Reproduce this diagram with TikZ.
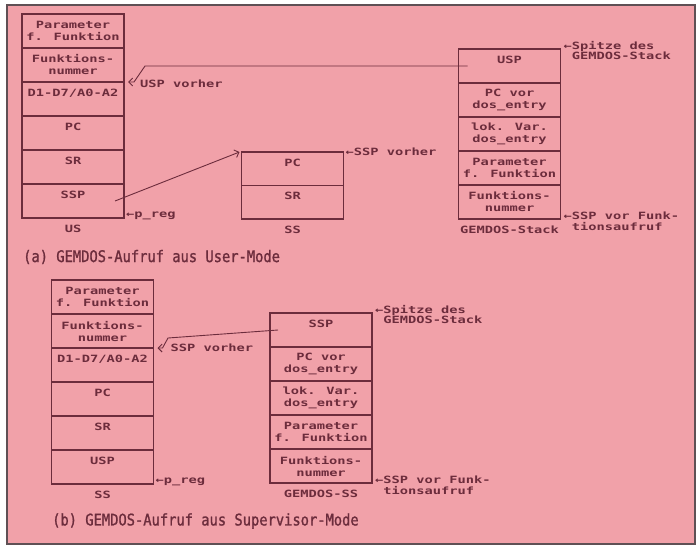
\documentclass[tikz,border=0pt]{standalone}
\usepackage{fontspec}
\usetikzlibrary{positioning,arrows.meta}
\newfontfamily\atari[FakeStretch=1.37]{DejaVu Sans Mono}
\newfontfamily\capfont[FakeStretch=0.86,FakeBold=1.2]{DejaVu Sans Mono}
\definecolor{paper}{RGB}{241,161,169}
\definecolor{ink}{RGB}{108,44,60}
\definecolor{framegray}{RGB}{95,80,85}

\begin{document}
\begin{tikzpicture}[x=1pt,y=-1pt,
    cell/.style={draw=ink,line width=1.1pt,minimum width=102pt,minimum height=34pt,inner sep=0pt,outer sep=0pt,align=center,text=ink,font=\atari\bfseries\fontsize{10}{12}\selectfont},
    stackname/.style={inner sep=0pt,text=ink,font=\atari\bfseries\fontsize{10}{12}\selectfont},
    sidelabel/.style={inner sep=0pt,align=left,text=ink,font=\atari\bfseries\fontsize{10}{10.5}\selectfont},
    conn/.style={draw=ink,line width=0.9pt,-{Straight Barb[length=4pt,width=8pt]}},
    capline/.style={anchor=west,inner sep=0pt,text=ink,font=\capfont\fontsize{16}{18}\selectfont}]
  \useasboundingbox (0,0) rectangle (700,554);
  \fill[white] (0,0) rectangle (700,554);
  \draw[draw=framegray,line width=1.2pt,fill=paper] (7,5) rectangle (695,544);

  \node[cell] (us1) at (73,31) {Parameter\\f. Funktion};
  \node[cell,below=0pt of us1] (us2) {Funktions-\\nummer};
  \node[cell,below=0pt of us2] (us3) {D1-D7/A0-A2\\~};
  \node[cell,below=0pt of us3] (us4) {PC\\~};
  \node[cell,below=0pt of us4] (us5) {SR\\~};
  \node[cell,below=0pt of us5] (us6) {SSP\\~};
  \node[stackname,below=7pt of us6] (uslbl) {US};

  \node[cell,minimum height=33.5pt] (ss1) at (292.5,168.75) {PC\\~};
  \node[cell,minimum height=33.5pt,below=0pt of ss1] (ss2) {SR\\~};
  \node[stackname,below=7pt of ss2] (sslbl) {SS};

  \node[cell] (gs1) at (509.5,66) {USP\\~};
  \node[cell,below=0pt of gs1] (gs2) {PC vor\\dos\_entry};
  \node[cell,below=0pt of gs2] (gs3) {lok. Var.\\dos\_entry};
  \node[cell,below=0pt of gs3] (gs4) {Parameter\\f. Funktion};
  \node[cell,below=0pt of gs4] (gs5) {Funktions-\\nummer};
  \node[stackname,below=7pt of gs5] (gslbl) {GEMDOS-Stack};

  \node[sidelabel,anchor=west] (prega) at ([xshift=2pt,yshift=2pt]us6.south east) {←p\_reg};
  \node[sidelabel,anchor=west] (sspolda) at ([xshift=2pt]ss1.north east) {←SSP vorher};
  \node[sidelabel,anchor=north west] (topa) at ([xshift=3pt,yshift=8pt]gs1.north east) {←Spitze des\\\phantom{←}GEMDOS-Stack};
  \node[sidelabel,anchor=north west] (bota) at ([xshift=3pt,yshift=7pt]gs5.south east) {←SSP vor Funk-\\\phantom{←}tionsaufruf};
  \node[sidelabel,anchor=west] (usplbl) at ([xshift=16pt,yshift=-2pt]us2.south east) {USP vorher};

  \coordinate (uspold) at ([xshift=4pt]us2.south east);
  \coordinate (ssptip) at ([xshift=-2pt]ss1.north west);
  \draw[conn] ([xshift=9pt]gs1.west) -- (145,66) -- ([xshift=6pt]uspold) -- (uspold);
  \draw[conn] ([xshift=-9pt]us6.east) -- (ssptip);

  \node[capline] (capa) at (23,257) {(a) GEMDOS-Aufruf aus User-Mode};

  \node[cell] (sv1) at (102.5,297) {Parameter\\f. Funktion};
  \node[cell,below=0pt of sv1] (sv2) {Funktions-\\nummer};
  \node[cell,below=0pt of sv2] (sv3) {D1-D7/A0-A2\\~};
  \node[cell,below=0pt of sv3] (sv4) {PC\\~};
  \node[cell,below=0pt of sv4] (sv5) {SR\\~};
  \node[cell,below=0pt of sv5] (sv6) {USP\\~};
  \node[stackname,below=7pt of sv6] (svlbl) {SS};

  \node[cell] (gv1) at (321,330) {SSP\\~};
  \node[cell,below=0pt of gv1] (gv2) {PC vor\\dos\_entry};
  \node[cell,below=0pt of gv2] (gv3) {lok. Var.\\dos\_entry};
  \node[cell,below=0pt of gv3] (gv4) {Parameter\\f. Funktion};
  \node[cell,below=0pt of gv4] (gv5) {Funktions-\\nummer};
  \node[stackname,below=7pt of gv5] (gvlbl) {GEMDOS-SS};

  \node[sidelabel,anchor=west] (pregb) at ([xshift=2pt,yshift=2pt]sv6.south east) {←p\_reg};
  \node[sidelabel,anchor=north west] (topb) at ([xshift=3pt,yshift=8pt]gv1.north east) {←Spitze des\\\phantom{←}GEMDOS-Stack};
  \node[sidelabel,anchor=north west] (botb) at ([xshift=3pt,yshift=7pt]gv5.south east) {←SSP vor Funk-\\\phantom{←}tionsaufruf};
  \node[sidelabel,anchor=west] (ssplblb) at ([xshift=17pt]sv2.south east) {SSP vorher};

  \coordinate (sspoldb) at ([xshift=4pt]sv2.south east);
  \draw[conn] ([xshift=8pt]gv1.west) -- (168,338) -- ([xshift=5pt]sspoldb) -- (sspoldb);

  \node[capline] (capb) at (52,521) {(b) GEMDOS-Aufruf aus Supervisor-Mode};
\end{tikzpicture}
\end{document}
